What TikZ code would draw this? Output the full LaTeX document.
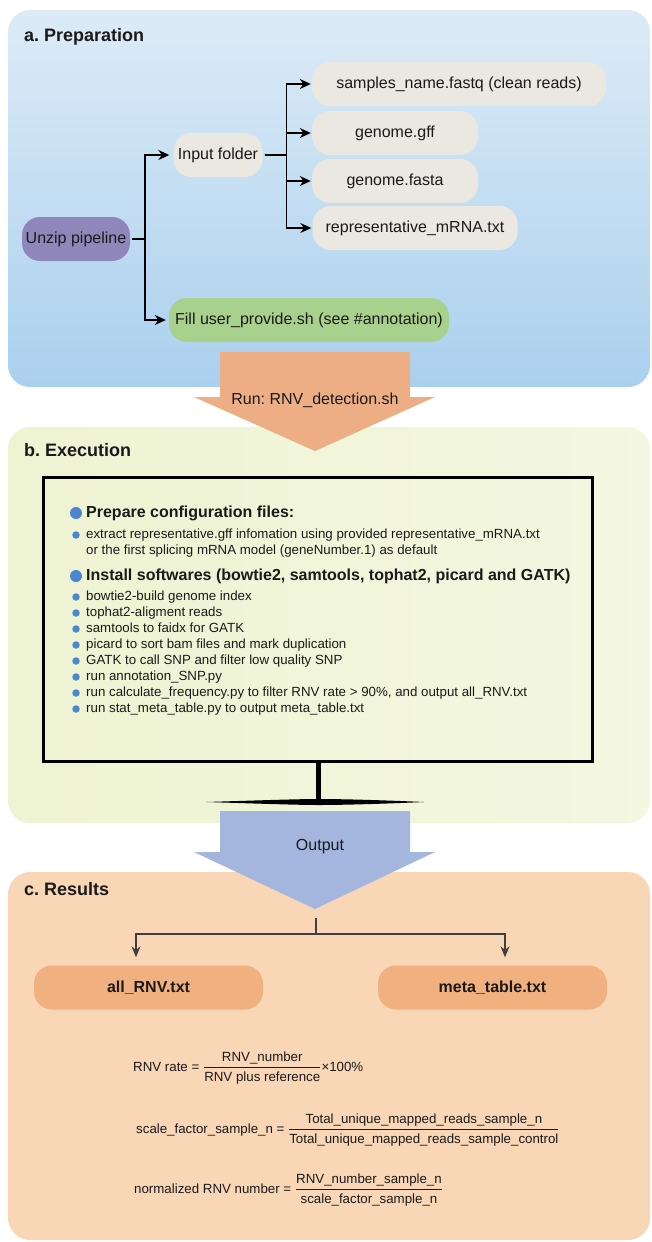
\documentclass[tikz,border=0pt]{standalone}
\usepackage{fontspec}
\setmainfont{Liberation Sans}
\usepackage{amsmath}
\usetikzlibrary{arrows.meta, calc}
\frenchspacing
\definecolor{preptop}{HTML}{DDEBF7}
\definecolor{prepbottom}{HTML}{AAD0EE}
\definecolor{execleft}{HTML}{EEF3D2}
\definecolor{execright}{HTML}{F4F7E1}
\definecolor{resultpeach}{HTML}{F8D6B6}
\definecolor{runorange}{HTML}{EEAE85}
\definecolor{outblue}{HTML}{A4B5DE}
\definecolor{sandgray}{HTML}{EBE8E1}
\definecolor{unzipviolet}{HTML}{8F87BA}
\definecolor{fillgreen}{HTML}{A9D18E}
\definecolor{resorange}{HTML}{F1B080}
\definecolor{dotblue}{HTML}{4A87CF}
\definecolor{inkblack}{HTML}{1A1A1A}
\definecolor{linegray}{HTML}{404040}

\begin{document}
\begin{tikzpicture}[x=1pt, y=-1pt,
  every node/.append style={text=inkblack},
  panel/.style={rounded corners=22pt},
  title/.style={anchor=west, inner sep=0pt, font=\fontsize{18}{22}\selectfont\bfseries},
  pill/.style={rounded corners=18pt, fill=#1, minimum height=44pt, inner sep=0pt,
    font=\fontsize{16}{19}\selectfont},
  link/.style={-{Stealth[length=11pt, width=10pt]}, line width=1.5pt, shorten <=2pt},
  split/.style={-{Stealth[length=11pt, width=9pt]}, line width=1.3pt, draw=linegray, shorten >=8pt},
  head/.style={anchor=west, inner sep=0pt, text height=11.5pt, text depth=3.4pt,
    font=\fontsize{16}{19}\selectfont\bfseries},
  entry/.style={anchor=west, inner sep=0pt, text height=9.6pt, text depth=2.8pt,
    font=\fontsize{13.3}{16}\selectfont},
  dot/.style={circle, fill=dotblue, inner sep=0pt, minimum size=#1},
  formula/.style={anchor=west, inner sep=0pt, font=\fontsize{13.3}{16}\selectfont}
]
  \useasboundingbox (0,0) rectangle (651,1242);

  % Panels
  \path[panel, top color=preptop, bottom color=prepbottom] (8,10) rectangle (650,387);
  \path[panel, left color=execleft, right color=execright] (8,427) rectangle (650,823);
  \path[panel, fill=resultpeach] (8,872) rectangle (650,1240);

  % Preparation
  \node[title] (preptitle) at (24,37) {a. Preparation};
  \node[pill=unzipviolet, minimum width=108pt] (unzip) at (76,239) {Unzip pipeline};
  \node[pill=sandgray, minimum width=89pt] (input) at (218,155) {Input folder};
  \node[pill=sandgray, minimum width=294pt] (samples) at (459,84) {samples\_name.fastq (clean reads)};
  \node[pill=sandgray, minimum width=166pt] (gff) at (395,133) {genome.gff};
  \node[pill=sandgray, minimum width=166pt] (fasta) at (395,181) {genome.fasta};
  \node[pill=sandgray, minimum width=205pt] (mrna) at (415,228) {representative\_mRNA.txt};
  \node[pill=fillgreen, minimum width=280pt] (userfill) at (309,320) {Fill user\_provide.sh (see \#annotation)};

  \draw[link, shorten >=4pt] (unzip.east) -- ++(15,0) |- (input.west);
  \draw[link, shorten >=3pt] (unzip.east) -- ++(15,0) |- (userfill.west);
  \draw[link, shorten >=1pt] (input.east) -- ++(24,0) |- (samples.west);
  \draw[link, shorten >=1pt] (input.east) -- ++(24,0) |- (gff.west);
  \draw[link, shorten >=1pt] (input.east) -- ++(24,0) |- (fasta.west);
  \draw[link, shorten >=1pt] (input.east) -- ++(24,0) |- (mrna.west);

  % Execution
  \node[title] (exectitle) at (24,450) {b. Execution};
  \node[draw=black, line width=3pt, minimum width=549pt, minimum height=284pt] (screen) at (318,619) {};
  \draw[line width=5pt] (screen.south) -- ++(0,40) coordinate (standfoot);
  \fill (206,802) .. controls (270,800) and (300,799) .. (319,799)
    .. controls (340,799) and (380,800) .. (424,802)
    .. controls (380,804) and (340,805) .. (319,805)
    .. controls (300,805) and (270,804) .. (206,802) -- cycle;

  \node[dot=12pt] (dotprep) at (76,513) {};
  \node[head] (headprep) at (86,513) {Prepare configuration files:};
  \node[dot=7.5pt] (dotgff) at (76,535) {};
  \node[entry] (itemgff) at (86,535) {extract representative.gff infomation using provided representative\_mRNA.txt};
  \node[entry] (itemgffb) at (86,551) {or the first splicing mRNA model (geneNumber.1) as default};
  \node[dot=12pt] (dotsoft) at (76,576) {};
  \node[head] (headsoft) at (86,576) {Install softwares (bowtie2, samtools, tophat2, picard and GATK)};
  \node[dot=7.5pt] (dota) at (76,597) {};
  \node[entry] (itema) at (86,597) {bowtie2-build genome index};
  \node[dot=7.5pt] (dotb) at (76,613) {};
  \node[entry] (itemb) at (86,613) {tophat2-aligment reads};
  \node[dot=7.5pt] (dotc) at (76,629) {};
  \node[entry] (itemc) at (86,629) {samtools to faidx for GATK};
  \node[dot=7.5pt] (dotd) at (76,645) {};
  \node[entry] (itemd) at (86,645) {picard to sort bam files and mark duplication};
  \node[dot=7.5pt] (dote) at (76,661) {};
  \node[entry] (iteme) at (86,661) {GATK to call SNP and filter low quality SNP};
  \node[dot=7.5pt] (dotf) at (76,677) {};
  \node[entry] (itemf) at (86,677) {run annotation\_SNP.py};
  \node[dot=7.5pt] (dotg) at (76,693) {};
  \node[entry] (itemg) at (86,693) {run calculate\_frequency.py to filter RNV rate > 90\%, and output all\_RNV.txt};
  \node[dot=7.5pt] (doth) at (76,709) {};
  \node[entry] (itemh) at (86,709) {run stat\_meta\_table.py to output meta\_table.txt};

  % Block arrows
  \fill[runorange] (220,352) -- (410,352) -- (410,397) -- (435,397) -- (315,451)
    -- (194,397) -- (220,397) -- cycle;
  \node[font=\fontsize{16}{19}\selectfont] (runlabel) at (315,400) {Run: RNV\_detection.sh};
  \fill[outblue] (220,811) -- (410,811) -- (410,852) -- (435,852) -- (315,909)
    -- (194,852) -- (220,852) -- cycle;
  \node[font=\fontsize{16}{19}\selectfont] (outlabel) at (320,847) {Output};

  % Results
  \node[title] (restitle) at (24,889) {c. Results};
  \node[pill=resorange, minimum width=229pt, font=\fontsize{16}{19}\selectfont\bfseries] (allrnv) at (148.5,987.5) {all\_RNV.txt};
  \node[pill=resorange, minimum width=229pt, font=\fontsize{16}{19}\selectfont\bfseries] (metatable) at (492.5,987.5) {meta\_table.txt};
  \coordinate (splitstart) at (316,918);
  \coordinate (fork) at (316,934);
  \draw[line width=1.3pt, draw=linegray] (splitstart) -- (fork);
  \draw[split] (fork) -| ([xshift=-12.5pt]allrnv.north);
  \draw[split] (fork) -| ([xshift=12.5pt]metatable.north);

  \node[formula] (ratefml) at (133,1068)
    {$\text{RNV rate = }\dfrac{\text{RNV\_number}}{\text{RNV plus reference}}\text{×100\%}$};
  \node[formula] (scalefml) at (136,1130)
    {$\text{scale\_factor\_sample\_n = }\dfrac{\text{Total\_unique\_mapped\_reads\_sample\_n}}{\text{Total\_unique\_mapped\_reads\_sample\_control}}$};
  \node[formula] (normfml) at (134,1190)
    {$\text{normalized RNV number = }\dfrac{\text{RNV\_number\_sample\_n}}{\text{scale\_factor\_sample\_n}}$};
\end{tikzpicture}
\end{document}
